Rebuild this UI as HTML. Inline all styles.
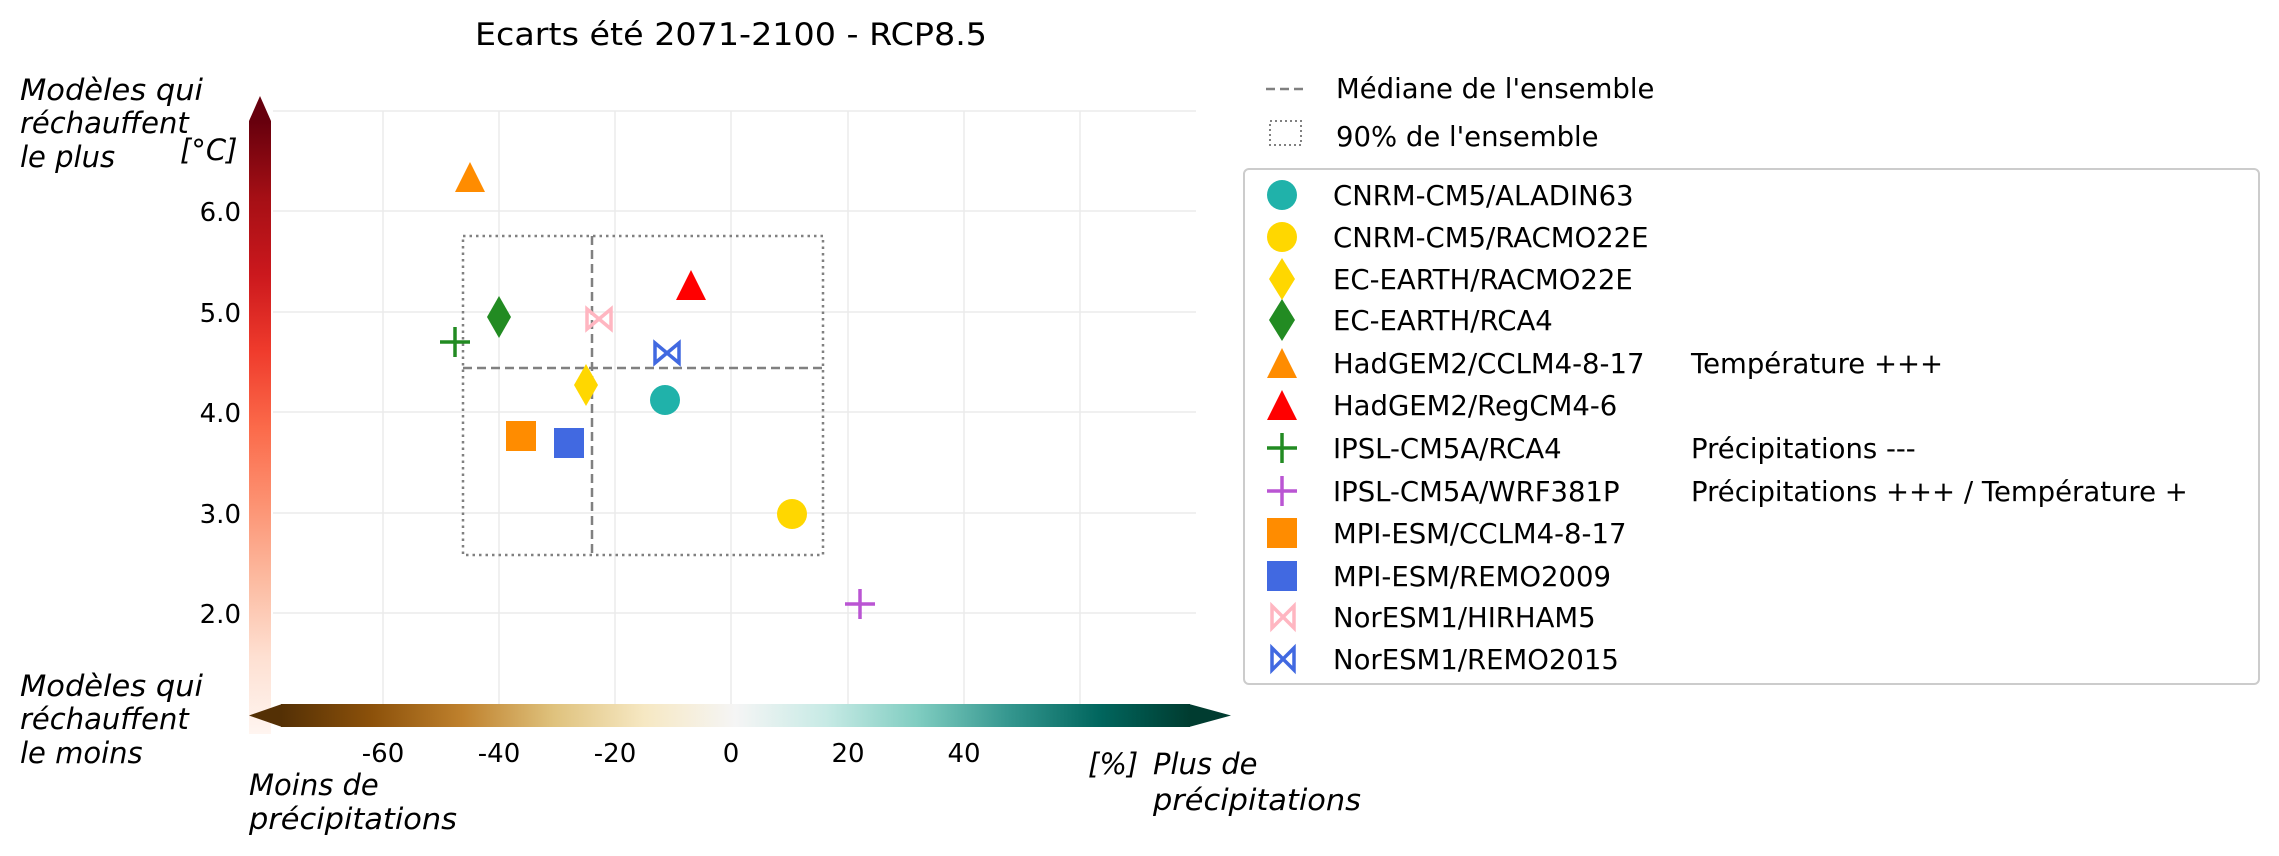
<!DOCTYPE html>
<html><head><meta charset="utf-8"><style>
html,body{margin:0;padding:0;background:#fff;}
svg{display:block;font-family:"DejaVu Sans","Liberation Sans",sans-serif;}
</style></head><body>
<svg width="2279" height="856" viewBox="0 0 2279 856" xmlns="http://www.w3.org/2000/svg">
<defs>
<linearGradient id="reds" x1="0" y1="1" x2="0" y2="0">
<stop offset="0" stop-color="#fff5f0"/><stop offset="0.125" stop-color="#fee0d2"/><stop offset="0.25" stop-color="#fcbba1"/><stop offset="0.375" stop-color="#fc9272"/><stop offset="0.5" stop-color="#fb6a4a"/><stop offset="0.625" stop-color="#ef3b2c"/><stop offset="0.75" stop-color="#cb181d"/><stop offset="0.875" stop-color="#a50f15"/><stop offset="1" stop-color="#67000d"/>
</linearGradient>
<linearGradient id="brbg" x1="0" y1="0" x2="1" y2="0">
<stop offset="0" stop-color="#543005"/><stop offset="0.1" stop-color="#8c510a"/><stop offset="0.2" stop-color="#bf812d"/><stop offset="0.3" stop-color="#dfc27d"/><stop offset="0.4" stop-color="#f6e8c3"/><stop offset="0.5" stop-color="#f5f5f5"/><stop offset="0.6" stop-color="#c7eae5"/><stop offset="0.7" stop-color="#80cdc1"/><stop offset="0.8" stop-color="#35978f"/><stop offset="0.9" stop-color="#01665e"/><stop offset="1" stop-color="#003c30"/>
</linearGradient>
</defs>

<text x="731" y="45" font-size="31" text-anchor="middle" textLength="512" lengthAdjust="spacingAndGlyphs">Ecarts été 2071-2100 - RCP8.5</text>

<g stroke="#ebebeb" stroke-width="1.5">
<line x1="273" y1="111" x2="1196" y2="111"/><line x1="273" y1="211" x2="1196" y2="211"/><line x1="273" y1="312" x2="1196" y2="312"/><line x1="273" y1="412" x2="1196" y2="412"/><line x1="273" y1="513" x2="1196" y2="513"/><line x1="273" y1="613" x2="1196" y2="613"/>
<line x1="383" y1="111" x2="383" y2="705"/><line x1="499" y1="111" x2="499" y2="705"/><line x1="615" y1="111" x2="615" y2="705"/><line x1="731" y1="111" x2="731" y2="705"/><line x1="848" y1="111" x2="848" y2="705"/><line x1="964" y1="111" x2="964" y2="705"/><line x1="1080" y1="111" x2="1080" y2="705"/>
</g>

<rect x="249" y="121" width="22" height="613" fill="url(#reds)"/>
<polygon points="249,121 271,121 260,96" fill="#67000d"/>
<rect x="281" y="704" width="909" height="23" fill="url(#brbg)"/>
<polygon points="282,704 282,727 249,715.5" fill="#543005"/>
<polygon points="1189,704 1189,727 1231,715.5" fill="#003c30"/>

<g font-size="26" text-anchor="end">
<text x="241" y="221">6.0</text><text x="241" y="322">5.0</text><text x="241" y="422">4.0</text><text x="241" y="523">3.0</text><text x="241" y="623">2.0</text>
</g>
<g font-size="26" text-anchor="middle">
<text x="383" y="762">-60</text><text x="499" y="762">-40</text><text x="615" y="762">-20</text><text x="731" y="762">0</text><text x="848" y="762">20</text><text x="964" y="762">40</text>
</g>

<g font-size="29" font-style="italic">
<text x="20" y="100" textLength="183" lengthAdjust="spacingAndGlyphs">Modèles qui</text>
<text x="20" y="133">réchauffent</text>
<text x="20" y="167">le plus</text>
<text x="180" y="160">[°C]</text>
<text x="20" y="696" textLength="183" lengthAdjust="spacingAndGlyphs">Modèles qui</text>
<text x="20" y="729">réchauffent</text>
<text x="20" y="763">le moins</text>
<text x="249" y="795">Moins de</text>
<text x="249" y="829" textLength="208" lengthAdjust="spacingAndGlyphs">précipitations</text>
<text x="1088" y="774">[%]</text>
<text x="1153" y="774">Plus de</text>
<text x="1153" y="810" textLength="208" lengthAdjust="spacingAndGlyphs">précipitations</text>
</g>

<rect x="463" y="236" width="360" height="319" fill="none" stroke="#808080" stroke-width="2.5" stroke-dasharray="2.5,4"/>
<line x1="592" y1="236" x2="592" y2="555" stroke="#808080" stroke-width="2.5" stroke-dasharray="9,5"/>
<line x1="463" y1="368" x2="823" y2="368" stroke="#808080" stroke-width="2.5" stroke-dasharray="9,5"/>

<polygon points="470,162 455,192 485,192" fill="#ff8c00"/>
<polygon points="691,270 676,300 706,300" fill="#ff0000"/>
<polygon points="499,296 511,317 499,338 487,317" fill="#228b22"/>
<g transform="translate(599,319)" fill="none" stroke="#ffb6c1" stroke-width="3.5" stroke-linejoin="miter"><polygon points="-12,-10 -12,10 0,0"/><polygon points="12,-10 12,10 0,0"/></g>
<g stroke="#228b22" stroke-width="3.5"><line x1="440" y1="342" x2="470" y2="342"/><line x1="455" y1="327" x2="455" y2="357"/></g>
<g transform="translate(667,353)" fill="none" stroke="#4169e1" stroke-width="3.5"><polygon points="-12,-10 -12,10 0,0"/><polygon points="12,-10 12,10 0,0"/></g>
<polygon points="586,364 598,385 586,406 574,385" fill="#ffd700"/>
<circle cx="665" cy="400" r="15" fill="#20b2aa"/>
<rect x="506" y="421" width="30" height="30" fill="#ff8c00"/>
<rect x="554" y="428" width="30" height="30" fill="#4169e1"/>
<circle cx="792" cy="514" r="15" fill="#ffd700"/>
<g stroke="#ba55d3" stroke-width="3.5"><line x1="845" y1="604" x2="875" y2="604"/><line x1="860" y1="589" x2="860" y2="619"/></g>

<line x1="1266" y1="89" x2="1306" y2="89" stroke="#808080" stroke-width="2.5" stroke-dasharray="9,5"/>
<text x="1336" y="98" font-size="27.5">Médiane de l'ensemble</text>
<rect x="1270" y="121" width="31" height="24" fill="none" stroke="#808080" stroke-width="2" stroke-dasharray="2,3"/>
<text x="1336" y="146" font-size="27.5">90% de l'ensemble</text>

<rect x="1244" y="169" width="1015" height="515" rx="5" fill="#fff" stroke="#cccccc" stroke-width="2"/>
<g font-size="27.5">
<circle cx="1282" cy="195" r="15" fill="#20b2aa"/><text x="1333" y="205">CNRM-CM5/ALADIN63</text>
<circle cx="1282" cy="237" r="15" fill="#ffd700"/><text x="1333" y="247">CNRM-CM5/RACMO22E</text>
<polygon points="1282,258 1295,279 1282,300 1269,279" fill="#ffd700"/><text x="1333" y="289">EC-EARTH/RACMO22E</text>
<polygon points="1282,299 1295,320 1282,341 1269,320" fill="#228b22"/><text x="1333" y="330">EC-EARTH/RCA4</text>
<polygon points="1282,348 1267,378 1297,378" fill="#ff8c00"/><text x="1333" y="373">HadGEM2/CCLM4-8-17</text><text x="1691" y="373">Température +++</text>
<polygon points="1282,390 1267,420 1297,420" fill="#ff0000"/><text x="1333" y="415">HadGEM2/RegCM4-6</text>
<g stroke="#228b22" stroke-width="3.5"><line x1="1267" y1="448" x2="1297" y2="448"/><line x1="1282" y1="433" x2="1282" y2="463"/></g><text x="1333" y="458">IPSL-CM5A/RCA4</text><text x="1691" y="458">Précipitations ---</text>
<g stroke="#ba55d3" stroke-width="3.5"><line x1="1267" y1="491" x2="1297" y2="491"/><line x1="1282" y1="476" x2="1282" y2="506"/></g><text x="1333" y="501">IPSL-CM5A/WRF381P</text><text x="1691" y="501">Précipitations +++ / Température +</text>
<rect x="1267" y="518" width="30" height="30" fill="#ff8c00"/><text x="1333" y="543">MPI-ESM/CCLM4-8-17</text>
<rect x="1267" y="561" width="30" height="30" fill="#4169e1"/><text x="1333" y="586">MPI-ESM/REMO2009</text>
<g transform="translate(1283,617)" fill="none" stroke="#ffb6c1" stroke-width="3.5"><polygon points="-11,-11 -11,11 0,0"/><polygon points="11,-11 11,11 0,0"/></g><text x="1333" y="627">NorESM1/HIRHAM5</text>
<g transform="translate(1283,659)" fill="none" stroke="#4169e1" stroke-width="3.5"><polygon points="-11,-11 -11,11 0,0"/><polygon points="11,-11 11,11 0,0"/></g><text x="1333" y="669">NorESM1/REMO2015</text>
</g>
</svg>
</body></html>
